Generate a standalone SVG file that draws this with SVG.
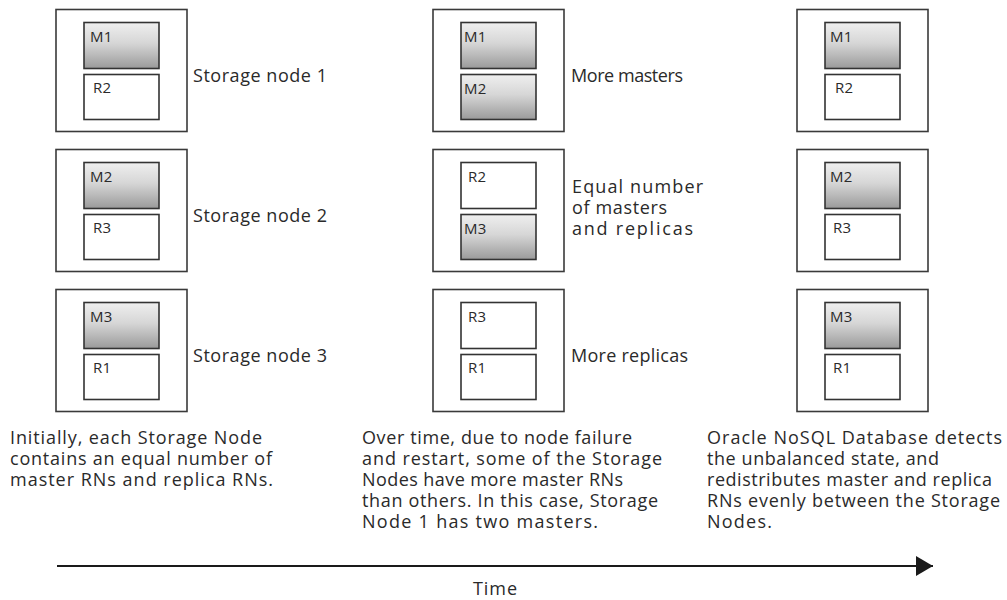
<svg xmlns="http://www.w3.org/2000/svg" width="1007" height="600" viewBox="0 0 1007 600">
<defs>
<linearGradient id="mg" x1="0" y1="0" x2="0" y2="1">
<stop offset="0" stop-color="#efefef"/>
<stop offset="0.45" stop-color="#d6d6d6"/>
<stop offset="1" stop-color="#9a9a9a"/>
</linearGradient>
<marker id="ah" markerWidth="17" markerHeight="20" refX="17" refY="10" orient="auto" markerUnits="userSpaceOnUse">
<path d="M0,0 L17,10 L0,20 Z" fill="#1a1a1a"/>
</marker>
</defs>
<style>
.outer{fill:#fff;stroke:#3a3a3a;stroke-width:1.6}
.m{fill:url(#mg);stroke:#333;stroke-width:1.6}
.r{fill:#fff;stroke:#333;stroke-width:1.6}
.in{font-family:"Open Sans",Lato,sans-serif;font-size:15px;fill:#2a2a2a;letter-spacing:0.3px}
.lbl{font-family:"Open Sans",Lato,sans-serif;font-size:18px;fill:#2a2a2a}
.cap{font-family:"Open Sans",Lato,sans-serif;font-size:18px;fill:#2a2a2a}
</style>
<rect width="1007" height="600" fill="#fff"/>

<!-- Column 1 -->
<g id="sn1a">
<rect class="outer" x="56" y="9.5" width="131" height="122"/>
<rect class="m" x="84" y="22.5" width="75" height="46"/>
<text class="in" x="90" y="42">M1</text>
<rect class="r" x="84" y="74.5" width="75" height="45"/>
<text class="in" x="93" y="93">R2</text>
<text class="lbl" x="193" y="82" textLength="134" lengthAdjust="spacing">Storage node 1</text>
</g>
<g id="sn2a">
<rect class="outer" x="56" y="149.5" width="131" height="122"/>
<rect class="m" x="84" y="162.5" width="75" height="46"/>
<text class="in" x="90" y="182">M2</text>
<rect class="r" x="84" y="214.5" width="75" height="45"/>
<text class="in" x="93" y="233">R3</text>
<text class="lbl" x="193" y="222" textLength="134" lengthAdjust="spacing">Storage node 2</text>
</g>
<g id="sn3a">
<rect class="outer" x="56" y="289.5" width="131" height="122"/>
<rect class="m" x="84" y="302.5" width="75" height="46"/>
<text class="in" x="90" y="322">M3</text>
<rect class="r" x="84" y="354.5" width="75" height="45"/>
<text class="in" x="93" y="373">R1</text>
<text class="lbl" x="193" y="362" textLength="134" lengthAdjust="spacing">Storage node 3</text>
</g>

<!-- Column 2 -->
<g id="sn1b">
<rect class="outer" x="433" y="9.5" width="131" height="122"/>
<rect class="m" x="461" y="22.5" width="75" height="46"/>
<text class="in" x="464" y="42">M1</text>
<rect class="m" x="461" y="74.5" width="75" height="45"/>
<text class="in" x="464" y="94">M2</text>
<text class="lbl" x="571" y="82" textLength="112" lengthAdjust="spacing">More masters</text>
</g>
<g id="sn2b">
<rect class="outer" x="433" y="149.5" width="131" height="122"/>
<rect class="r" x="461" y="162.5" width="75" height="46"/>
<text class="in" x="468" y="182">R2</text>
<rect class="m" x="461" y="214.5" width="75" height="45"/>
<text class="in" x="464" y="234">M3</text>
<text class="lbl" x="572" y="193" textLength="131" lengthAdjust="spacing">Equal number</text>
<text class="lbl" x="572" y="214" textLength="95" lengthAdjust="spacing">of masters</text>
<text class="lbl" x="572" y="235" textLength="121" lengthAdjust="spacing">and replicas</text>
</g>
<g id="sn3b">
<rect class="outer" x="433" y="289.5" width="131" height="122"/>
<rect class="r" x="461" y="302.5" width="75" height="46"/>
<text class="in" x="468" y="322">R3</text>
<rect class="r" x="461" y="354.5" width="75" height="45"/>
<text class="in" x="468" y="373">R1</text>
<text class="lbl" x="571" y="362" textLength="117" lengthAdjust="spacing">More replicas</text>
</g>

<!-- Column 3 -->
<g id="sn1c">
<rect class="outer" x="797" y="9.5" width="131" height="122"/>
<rect class="m" x="825" y="22.5" width="75" height="46"/>
<text class="in" x="830" y="42">M1</text>
<rect class="r" x="825" y="74.5" width="75" height="45"/>
<text class="in" x="835" y="93">R2</text>
</g>
<g id="sn2c">
<rect class="outer" x="797" y="149.5" width="131" height="122"/>
<rect class="m" x="825" y="162.5" width="75" height="46"/>
<text class="in" x="830" y="182">M2</text>
<rect class="r" x="825" y="214.5" width="75" height="45"/>
<text class="in" x="833" y="233">R3</text>
</g>
<g id="sn3c">
<rect class="outer" x="797" y="289.5" width="131" height="122"/>
<rect class="m" x="825" y="302.5" width="75" height="46"/>
<text class="in" x="830" y="322">M3</text>
<rect class="r" x="825" y="354.5" width="75" height="45"/>
<text class="in" x="833" y="373">R1</text>
</g>

<!-- Captions -->
<g id="cap1">
<text class="cap" x="10" y="444" textLength="252" lengthAdjust="spacing">Initially, each Storage Node</text>
<text class="cap" x="10" y="465" textLength="262" lengthAdjust="spacing">contains an equal number of</text>
<text class="cap" x="10" y="486" textLength="263" lengthAdjust="spacing">master RNs and replica RNs.</text>
</g>
<g id="cap2">
<text class="cap" x="362" y="444" textLength="270" lengthAdjust="spacing">Over time, due to node failure</text>
<text class="cap" x="362" y="465" textLength="300" lengthAdjust="spacing">and restart, some of the Storage</text>
<text class="cap" x="362" y="486" textLength="261" lengthAdjust="spacing">Nodes have more master RNs</text>
<text class="cap" x="362" y="507" textLength="296" lengthAdjust="spacing">than others. In this case, Storage</text>
<text class="cap" x="362" y="528" textLength="236" lengthAdjust="spacing">Node 1 has two masters.</text>
</g>
<g id="cap3">
<text class="cap" x="707" y="444" textLength="295" lengthAdjust="spacing">Oracle NoSQL Database detects</text>
<text class="cap" x="707" y="465" textLength="232" lengthAdjust="spacing">the unbalanced state, and</text>
<text class="cap" x="707" y="486" textLength="285" lengthAdjust="spacing">redistributes master and replica</text>
<text class="cap" x="707" y="507" textLength="293" lengthAdjust="spacing">RNs evenly between the Storage</text>
<text class="cap" x="707" y="528" textLength="65" lengthAdjust="spacing">Nodes.</text>
</g>

<!-- Connectors -->
<g id="connectors">
<line x1="57" y1="566" x2="933" y2="566" stroke="#1a1a1a" stroke-width="2" marker-end="url(#ah)"/>
</g>
<g id="timeLabel">
<text class="lbl" x="473" y="595" textLength="44" lengthAdjust="spacing">Time</text>
</g>
</svg>
